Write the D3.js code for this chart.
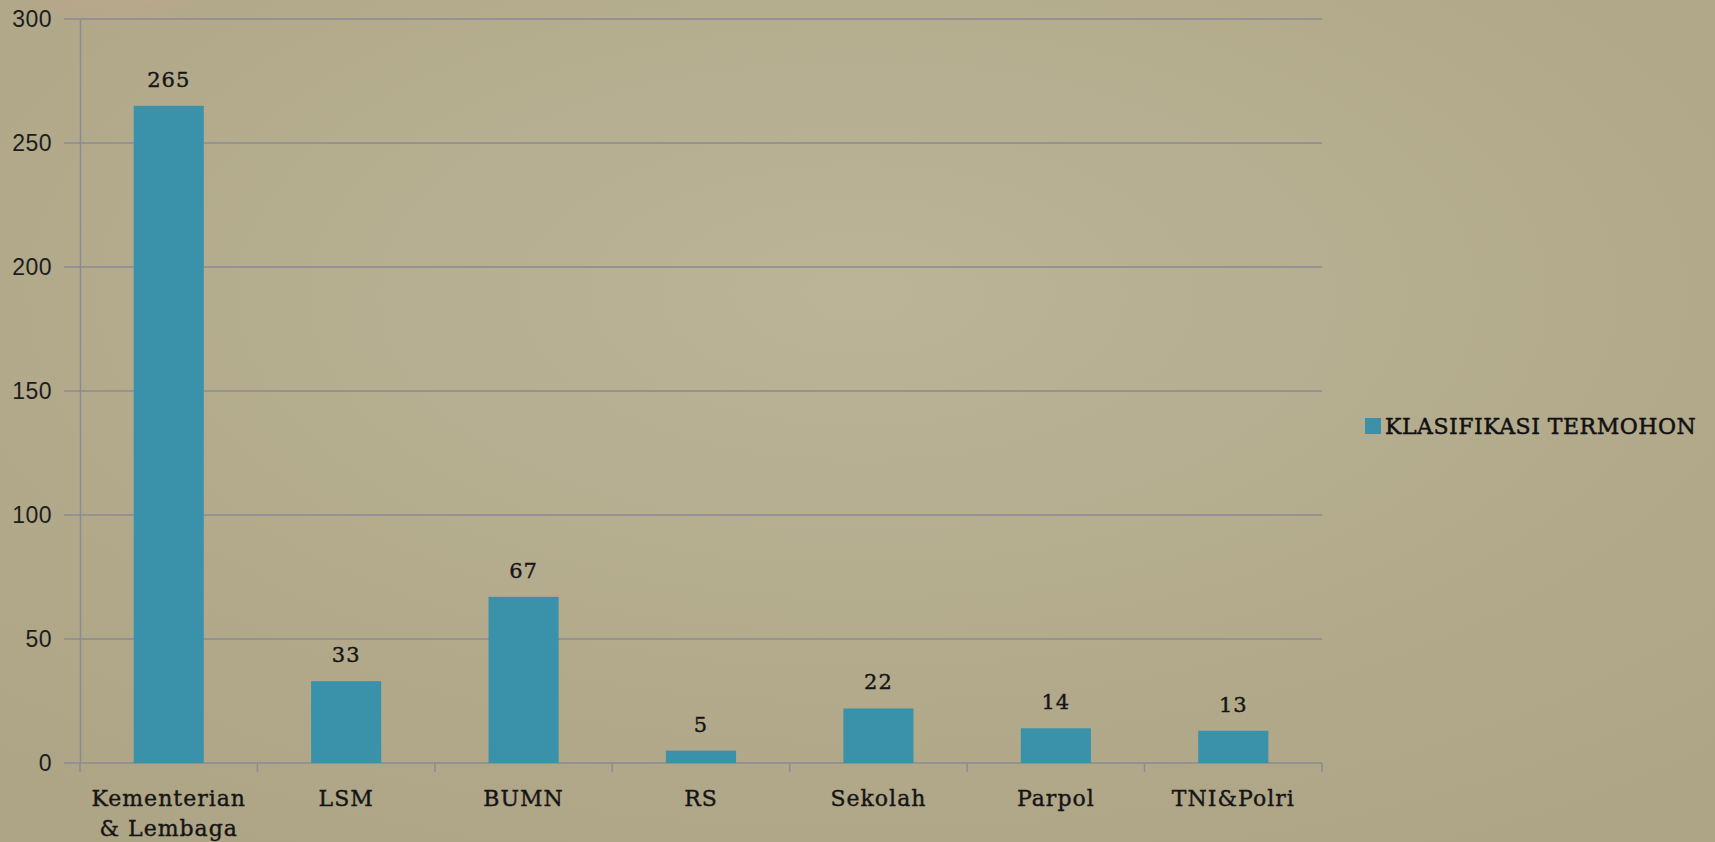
<!DOCTYPE html>
<html>
<head>
<meta charset="utf-8">
<script src="https://cdn.jsdelivr.net/npm/d3@7"></script>
<style>
    body { margin: 0; overflow: hidden; }
    svg { display: block; }
</style>
</head>
<body>
<div class="graph-content"></div>
<script>
// data
var categories = [["Kementerian", "& Lembaga"], ["LSM"], ["BUMN"], ["RS"], ["Sekolah"], ["Parpol"], ["TNI&Polri"]];
var values = [265, 33, 67, 5, 22, 14, 13];
var yTicks = [0, 50, 100, 150, 200, 250, 300];
var seriesName = "KLASIFIKASI TERMOHON";

var W = 1715, H = 842;
var margin = {top: 19, right: 393, bottom: 79, left: 80},
    width = W - margin.left - margin.right,
    height = H - margin.top - margin.bottom;

var slab = "Rockwell, 'DejaVu Serif', serif";

var root = d3.select(".graph-content").append("svg")
    .attr("width", W)
    .attr("height", H);

// background
var defs = root.append("defs");
var bg = defs.append("radialGradient").attr("id", "bg")
    .attr("cx", "0.5").attr("cy", "0.35").attr("r", "0.75");
bg.append("stop").attr("offset", "0%").attr("stop-color", "#bbb496");
bg.append("stop").attr("offset", "100%").attr("stop-color", "#aea486");
var blob = defs.append("radialGradient").attr("id", "blob");
blob.append("stop").attr("offset", "70%").attr("stop-color", "#d2a58c").attr("stop-opacity", 0.5);
blob.append("stop").attr("offset", "100%").attr("stop-color", "#d2a58c").attr("stop-opacity", 0);

root.append("rect").attr("width", W).attr("height", H).attr("fill", "url(#bg)");
root.append("circle").attr("cx", 110).attr("cy", -150).attr("r", 180).attr("fill", "url(#blob)");

var svg = root.append("g")
    .attr("transform", "translate(" + margin.left + "," + margin.top + ")");

var x = d3.scaleBand().domain(d3.range(categories.length)).range([0, width]).padding(0);
var y = d3.scaleLinear().domain([0, 300]).range([height, 0]);

// gridlines
svg.selectAll(".grid")
    .data(yTicks)
    .enter().append("line")
    .attr("x1", -16)
    .attr("x2", width)
    .attr("y1", function(d) { return y(d); })
    .attr("y2", function(d) { return y(d); })
    .attr("stroke", "#8b8b93")
    .attr("stroke-width", 1.5);

// y axis
var yAxis = svg.append("g")
    .call(d3.axisLeft(y).tickValues(yTicks).tickSize(0).tickPadding(28));
yAxis.select(".domain").attr("stroke", "#8b8b93").attr("stroke-width", 1.5);
yAxis.selectAll("text")
    .attr("fill", "#1c1c1c")
    .style("font-family", "'Liberation Sans', Arial, sans-serif")
    .style("font-size", "23px")
    .style("letter-spacing", "0.5px");

// x axis ticks at band boundaries
var bounds = d3.range(categories.length + 1).map(function(i) { return i * x.step(); });
svg.selectAll(".xtick")
    .data(bounds)
    .enter().append("line")
    .attr("x1", function(d) { return d; })
    .attr("x2", function(d) { return d; })
    .attr("y1", height)
    .attr("y2", height + 9)
    .attr("stroke", "#8b8b93")
    .attr("stroke-width", 1.5);

// bars
var barW = x.bandwidth() * 0.395;
svg.selectAll(".bar")
    .data(values)
    .enter().append("rect")
    .attr("x", function(d, i) { return x(i) + x.bandwidth() / 2 - barW / 2; })
    .attr("y", function(d) { return y(d); })
    .attr("width", barW)
    .attr("height", function(d) { return height - y(d); })
    .attr("fill", "#3a91aa");

// value labels
svg.selectAll(".val")
    .data(values)
    .enter().append("text")
    .attr("x", function(d, i) { return x(i) + x.bandwidth() / 2; })
    .attr("y", function(d) { return y(d) - 19; })
    .attr("text-anchor", "middle")
    .attr("fill", "#151515")
    .attr("stroke", "#151515")
    .attr("stroke-width", 0.4)
    .style("font-family", slab)
    .style("font-size", "21px")
    .style("letter-spacing", "1px")
    .text(function(d) { return d; });

// category labels
var cat = svg.selectAll(".cat")
    .data(categories)
    .enter().append("text")
    .attr("x", function(d, i) { return x(i) + x.bandwidth() / 2; })
    .attr("y", height + 43)
    .attr("text-anchor", "middle")
    .attr("fill", "#151515")
    .attr("stroke", "#151515")
    .attr("stroke-width", 0.4)
    .style("font-family", slab)
    .style("font-size", "22px")
    .style("letter-spacing", "1px");
cat.selectAll("tspan")
    .data(function(d) { return d; })
    .enter().append("tspan")
    .attr("x", function() { return d3.select(this.parentNode).attr("x"); })
    .attr("dy", function(d, i) { return i == 0 ? 0 : 30; })
    .text(function(d) { return d; });

// legend
var legend = root.append("g").attr("transform", "translate(1365,418)");
legend.append("rect")
    .attr("width", 16)
    .attr("height", 16)
    .attr("fill", "#3a91aa");
legend.append("text")
    .attr("x", 20)
    .attr("y", 16)
    .attr("fill", "#111")
    .attr("stroke", "#111")
    .attr("stroke-width", 0.5)
    .style("font-family", slab)
    .style("font-size", "22px")
    .style("letter-spacing", "0.5px")
    .text(seriesName);
</script>
</body>
</html>
